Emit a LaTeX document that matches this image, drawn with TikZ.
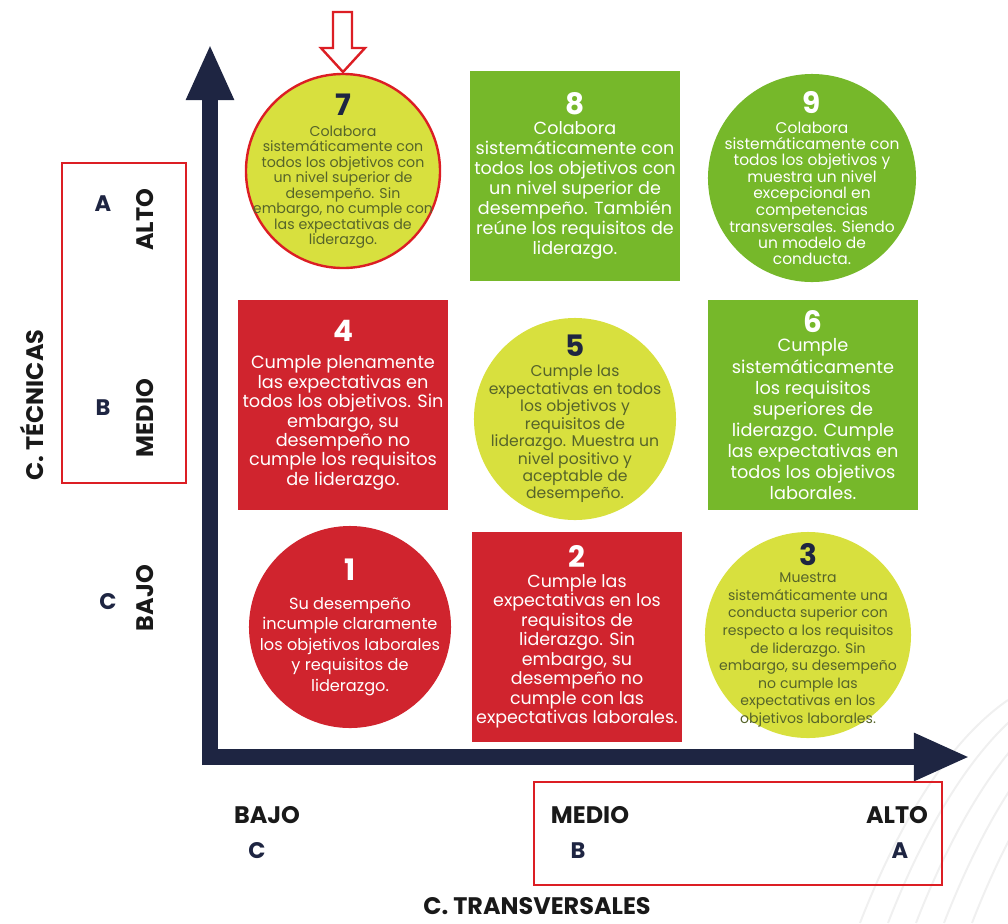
\documentclass[tikz,border=0pt]{standalone}
\usepackage{fontspec}
\setmainfont{Poppins}
\usetikzlibrary{arrows.meta}

\definecolor{navy}{RGB}{30,37,66}
\definecolor{rojo}{RGB}{208,36,46}
\definecolor{verde}{RGB}{118,184,42}
\definecolor{lima}{RGB}{216,224,62}
\definecolor{oliva}{RGB}{86,100,42}
\definecolor{marco}{RGB}{220,30,36}

% numero grande de cada casilla
\newcommand{\cifra}[2]{{\color{#1}\fontsize{21}{22}\selectfont\bfseries #2}}

\begin{document}
\begin{tikzpicture}[x=0.025cm,y=-0.025cm,
    eje/.style={navy,line width=0.38cm,-{Triangle[length=1.4cm,width=1.1cm]}},
    redonda/.style={circle,fill=#1,inner sep=0pt},
    cuadro/.style={rectangle,fill=#1,inner sep=0pt,minimum width=5.25cm,minimum height=5.25cm},
    texto/.style={align=center,inner sep=0pt},
    nivel/.style={font=\fontsize{17}{19}\selectfont\bfseries,text=black!90},
    letra/.style={font=\fontsize{16}{18}\selectfont\bfseries,text=navy},
    titulo/.style={font=\fontsize{17}{19}\selectfont\bfseries,text=black!90},
    recuadro/.style={draw=marco,line width=0.065cm}]
\useasboundingbox (0,0) rectangle (1008,923);

% lineas de fondo
\foreach \d in {0,28,56,84,112}
  \draw[gray!12,line width=0.05cm] (860+\d,923) .. controls (900+\d,820) and (950+\d,740) .. (1008+\d,700);

% ejes
\coordinate (origen) at (210,765);
\coordinate (arriba) at (210,44);
\coordinate (inicio) at (202,757);
\coordinate (derecha) at (970,757);
\draw[eje] (origen) -- (arriba);
\draw[eje] (inicio) -- (derecha);

% fila alta
\node[redonda=lima,draw=marco,line width=0.06cm,minimum size=4.85cm] (c7) at (343,171) {};
\node[texto,font=\fontsize{10.1}{11}\selectfont,text=oliva] (t7) at (c7)
  {\cifra{navy}{7}\\[4pt]Colabora\\sistemáticamente con\\todos los objetivos con\\un nivel superior de\\desempeño. Sin\\embargo, no cumple con\\las expectativas de\\liderazgo.};
\node[cuadro=verde] (c8) at (575,176) {};
\node[texto,font=\fontsize{12.5}{14.2}\selectfont,text=white] (t8) at (c8)
  {\cifra{white}{8}\\Colabora\\sistemáticamente con\\todos los objetivos con\\un nivel superior de\\desempeño.  También\\reúne los requisitos de\\liderazgo.};
\node[redonda=verde,minimum size=5.2cm] (c9) at (812,178) {};
\node[texto,font=\fontsize{11}{11.2}\selectfont,text=white] (t9) at (c9)
  {\cifra{white}{9}\\[3pt]Colabora\\sistemáticamente con\\todos los objetivos  y\\muestra un nivel\\excepcional en\\competencias\\transversales. Siendo\\un modelo de\\conducta.};

% fila media
\node[cuadro=rojo] (c4) at (343,405) {};
\node[texto,font=\fontsize{12.6}{13.8}\selectfont,text=white] (t4) at (c4)
  {\cifra{white}{4}\\[6pt]Cumple plenamente\\las expectativas en\\todos los objetivos. Sin\\embargo, su\\desempeño no\\cumple los requisitos\\de liderazgo.};
\node[redonda=lima,minimum size=5.05cm] (c5) at (575,419) {};
\node[texto,font=\fontsize{11.1}{12.4}\selectfont,text=oliva] (t5) at (c5)
  {\cifra{navy}{5}\\[2pt]Cumple las\\expectativas en todos\\los objetivos y\\requisitos de\\liderazgo. Muestra un\\nivel positivo y\\aceptable de\\desempeño.};
\node[cuadro=verde] (c6) at (813,405) {};
\node[texto,font=\fontsize{12.6}{15}\selectfont,text=white] (t6) at (c6)
  {\cifra{white}{6}\\[-1pt]Cumple\\sistemáticamente\\los requisitos\\superiores de\\liderazgo. Cumple\\las expectativas en\\todos los objetivos\\laborales.};

% fila baja
\node[redonda=rojo,minimum size=5.05cm] (c1) at (350,627) {};
\node[texto,font=\fontsize{11.5}{14.6}\selectfont,text=white] (t1) at (c1)
  {\cifra{white}{1}\\[6pt]Su desempeño\\incumple claramente\\los objetivos laborales\\y requisitos de\\liderazgo.};
\node[cuadro=rojo] (c2) at (577,637) {};
\node[texto,font=\fontsize{12.4}{13.9}\selectfont,text=white] (t2) at (c2)
  {\cifra{white}{2}\\Cumple las\\expectativas en los\\requisitos de\\liderazgo. Sin\\embargo, su\\desempeño no\\cumple con las\\expectativas laborales.};
\node[redonda=lima,minimum size=5.15cm] (c3) at (808,635) {};
\node[texto,font=\fontsize{10}{12.5}\selectfont,text=oliva] (t3) at (c3)
  {\cifra{navy}{3}\\Muestra\\sistemáticamente una\\conducta superior con\\respecto a los requisitos\\de liderazgo. Sin\\embargo, su desempeño\\no cumple las\\expectativas en los\\objetivos laborales.};

% flecha que senala la casilla 7
\draw[marco,line width=0.06cm,fill=white,line join=miter]
  (333,12) -- (352,12) -- (352,48) -- (365,48) -- (343,72) -- (321,48) -- (333,48) -- cycle;

% eje vertical: competencias tecnicas
\node[titulo,rotate=90] (tecnicas) at (32,405) {C. TÉCNICAS};
\draw[recuadro] (62,163) rectangle (186,483);
\node[letra] (ya) at (103,204) {A};
\node[nivel,rotate=90] (yalto) at (145,220) {ALTO};
\node[letra] (yb) at (103,408) {B};
\node[nivel,rotate=90] (ymedio) at (145,418) {MEDIO};
\node[letra] (yc) at (108,602) {C};
\node[nivel,rotate=90] (ybajo) at (145,598) {BAJO};

% eje horizontal: competencias transversales
\node[nivel] (xbajo) at (267,815) {BAJO};
\node[letra] (xc) at (257,851) {C};
\node[nivel] (xmedio) at (590,815) {MEDIO};
\node[letra] (xb) at (578,851) {B};
\node[nivel] (xalto) at (897,815) {ALTO};
\node[letra] (xa) at (900,851) {A};
\draw[recuadro] (534,782) rectangle (942,885);
\node[titulo,anchor=base] (transversales) at (537,914) {C. TRANSVERSALES};
\end{tikzpicture}
\end{document}
